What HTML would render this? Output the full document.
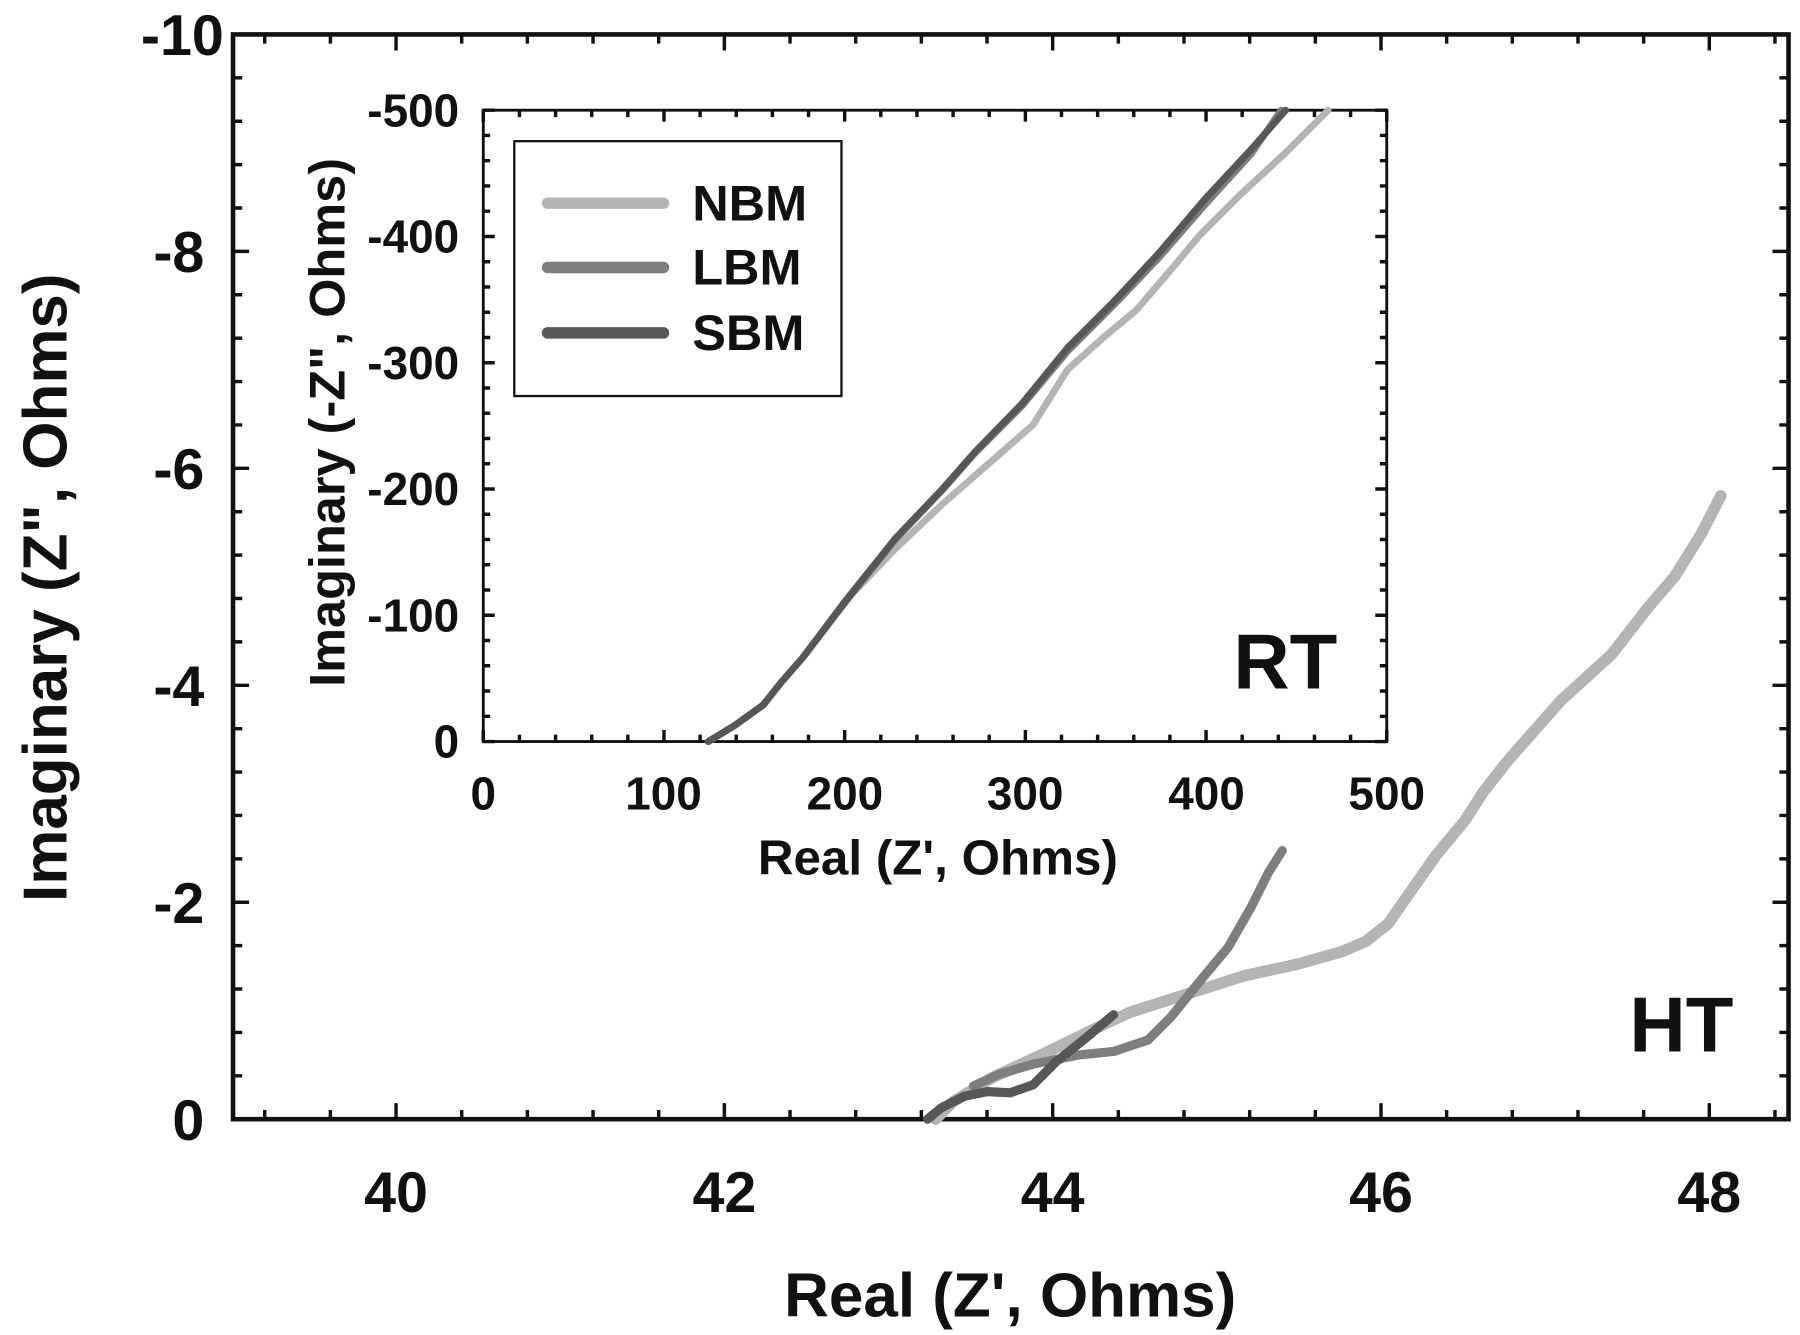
<!DOCTYPE html>
<html><head><meta charset="utf-8"><style>
html,body{margin:0;padding:0;background:#fff}
svg{display:block}
text{font-family:"Liberation Sans",Arial,sans-serif;font-weight:bold;fill:#111}
</style></head><body>
<svg id="s" width="1800" height="1335" viewBox="0 0 1568 1163" preserveAspectRatio="none" xmlns="http://www.w3.org/2000/svg">
<rect x="0" y="0" width="1568" height="1163" fill="#fff"/>
<g id="ticks" stroke="#111" stroke-width="3" fill="none"></g>
<rect x="203" y="30" width="1355" height="945" fill="none" stroke="#111" stroke-width="4"/>
<rect x="421" y="96" width="787" height="550" fill="none" stroke="#111" stroke-width="2.5"/>
<g font-size="50" text-anchor="end">
<text x="195" y="48">-10</text>
<text x="178" y="237">-8</text>
<text x="178" y="426">-6</text>
<text x="178" y="615">-4</text>
<text x="178" y="804">-2</text>
<text x="178" y="993">0</text>
</g>
<g font-size="50" text-anchor="middle">
<text x="345" y="1056">40</text>
<text x="631" y="1056">42</text>
<text x="917" y="1056">44</text>
<text x="1203" y="1056">46</text>
<text x="1489" y="1056">48</text>
</g>
<text x="880" y="1147" font-size="54" text-anchor="middle">Real (Z', Ohms)</text>
<text transform="translate(58,512) rotate(-90)" font-size="54" text-anchor="middle">Imaginary (Z", Ohms)</text>
<g font-size="40" text-anchor="end">
<text x="400" y="110">-500</text>
<text x="400" y="220">-400</text>
<text x="400" y="330">-300</text>
<text x="400" y="440">-200</text>
<text x="400" y="550">-100</text>
<text x="400" y="660">0</text>
</g>
<g font-size="40" text-anchor="middle">
<text x="421" y="705">0</text>
<text x="578" y="705">100</text>
<text x="736" y="705">200</text>
<text x="893" y="705">300</text>
<text x="1051" y="705">400</text>
<text x="1208" y="705">500</text>
</g>
<text x="817" y="762" font-size="43" text-anchor="middle">Real (Z', Ohms)</text>
<text transform="translate(300,368) rotate(-90)" font-size="44" text-anchor="middle">Imaginary (-Z", Ohms)</text>
<text x="1165" y="600" font-size="68" text-anchor="end">RT</text>
<text x="1510" y="916" font-size="68" text-anchor="end">HT</text>
<rect x="448" y="123" width="285" height="222" fill="#fff" stroke="#111" stroke-width="2"/>
<g stroke-width="10" stroke-linecap="round">
<line x1="477" y1="177" x2="578" y2="177" stroke="#b4b4b4"/>
<line x1="477" y1="233" x2="578" y2="233" stroke="#7e7e7e"/>
<line x1="477" y1="290" x2="578" y2="290" stroke="#575757"/>
</g>
<g font-size="44">
<text x="603" y="192">NBM</text>
<text x="603" y="248">LBM</text>
<text x="603" y="305">SBM</text>
</g>
<g fill="none" stroke-linecap="round" stroke-linejoin="round">
<polyline stroke="#b4b4b4" stroke-width="6" points="617,646 640,632 665,614 680,595 700,572 735,525 780,478 820,440 860,405 900,370 930,322 960,295 990,270 1020,235 1045,205 1080,170 1120,133 1157,96"/>
<polyline stroke="#7e7e7e" stroke-width="6" points="617,646 640,632 665,614 680,595 700,572 740,520 780,470 820,428 850,394 890,354 930,306 970,266 1010,224 1050,178 1090,134 1116,96"/>
<polyline stroke="#575757" stroke-width="6" points="617,646 640,632 665,614 680,595 700,572 740,519 780,469 820,427 850,393 890,352 930,303 970,263 1010,220 1050,173 1090,130 1120,96"/>
</g>
<g fill="none" stroke-linecap="round" stroke-linejoin="round">
<polyline stroke="#b4b4b4" stroke-width="10" points="815,975 830,960 864,939 909,918 950,898 984,882 1034,866 1084,850 1130,840 1169,829 1190,820 1209,805 1230,775 1251,745 1276,715 1292,690 1314,662 1360,610 1404,570 1435,530 1459,502 1482,465 1499,432"/>
<polyline stroke="#7e7e7e" stroke-width="8" points="848,946 870,936 900,927 940,919 970,916 1000,906 1020,886 1045,855 1070,825 1090,790 1105,760 1117,741"/>
<polyline stroke="#575757" stroke-width="8" points="808,975 820,965 840,955 860,951 880,952 900,945 920,925 945,905 970,884"/>
</g>
</svg>
<script>
(function(){
var g=document.getElementById('ticks');var d='';
for(var i=0;i<=24;i++){var v=39.2+0.4*i;var x=345+(v-40)*143;if(x>1556)break;var maj=Math.abs(v/2-Math.round(v/2))<1e-6;var L=maj?14:8;
d+='M'+x+' 975v-'+L+'M'+x+' 30v'+L;}
for(var i=0;i<=25;i++){var y=975-i*37.8;var L=(i%5==0)?14:8;d+='M203 '+y+'h'+L+'M1558 '+y+'h-'+L;}
for(var i=0;i<=25;i++){var x=421+i*31.48;var L=(i%5==0)?10:6;d+='M'+x+' 646v-'+L+'M'+x+' 96v'+L;}
for(var i=0;i<=25;i++){var y=646-i*22;var L=(i%5==0)?10:6;d+='M421 '+y+'h'+L+'M1208 '+y+'h-'+L;}
var p=document.createElementNS('http://www.w3.org/2000/svg','path');p.setAttribute('d',d);g.appendChild(p);
})();
</script>
</body></html>
